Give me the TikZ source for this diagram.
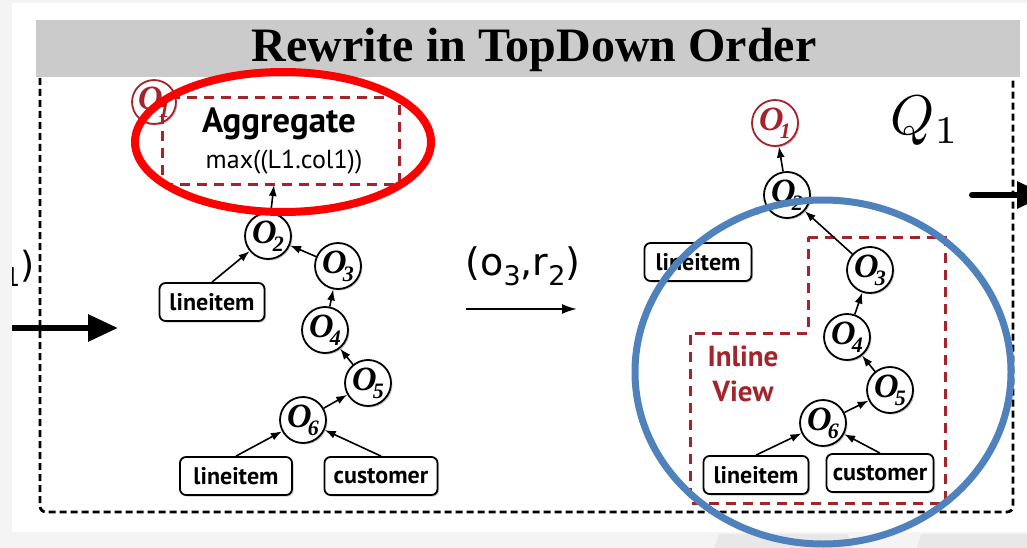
\documentclass[tikz,border=0pt]{standalone}
\usepackage{fontspec}
\setmainfont{Liberation Serif}
\newfontfamily\hsf{PT Sans}
\newfontfamily\dvs{DejaVu Sans}
\usetikzlibrary{arrows.meta,shadows,calc}
\definecolor{bgg}{HTML}{F4F4F4}
\definecolor{hdr}{HTML}{CBCBCB}
\definecolor{dred}{HTML}{A3242B}
\definecolor{bblue}{HTML}{4F81BD}
\definecolor{rred}{HTML}{FF0000}
\definecolor{faint}{HTML}{E8E8E8}
\newcommand\olab[1]{{\fontsize{34}{34}\selectfont\bfseries\itshape O}\kern-4pt\raisebox{-8pt}{\fontsize{22}{22}\selectfont\bfseries\itshape #1}}
\begin{document}
\begin{tikzpicture}[x=1pt,y=-1pt,
  shad/.style={drop shadow={shadow xshift=1.5pt,shadow yshift=-1.5pt,opacity=.3,fill=black!70}},
  op/.style={circle,draw,line width=1.8pt,minimum size=46pt,inner sep=0pt,fill=white,shad},
  rop/.style={op,draw=dred,text=dred},
  tbl/.style={draw,rounded corners=6pt,line width=1.8pt,fill=white,minimum height=38pt,inner sep=0pt,
    font=\hsf\bfseries\fontsize{24}{24}\selectfont,shad},
  edge/.style={-{Latex[length=11pt,width=8pt]},line width=1.6pt},
  thick arrow/.style={line width=6pt,-{Triangle[length=30pt,width=26pt]}},
  reddash/.style={draw=dred,line width=3pt,dash pattern=on 10pt off 7pt}]
\useasboundingbox (0,0) rectangle (1027,548);
% backgrounds
\fill[bgg] (0,0) rectangle (1027,548);
\fill[faint] (714,548) -- (719,534) -- (848,534) -- (852,548) -- cycle;
\fill[faint] (917,548) -- (921,534) -- (1027,534) -- (1027,548) -- cycle;
\fill[white] (12,3) rectangle (1027,532);
\fill[hdr] (36,20) rectangle (1020,77);
\node[anchor=base,font=\bfseries\fontsize{48}{48}\selectfont] (title) at (534,62) {Rewrite in TopDown Order};
\draw[line width=2.8pt,dash pattern=on 7pt off 4pt,rounded corners=6pt] (40,78) -- (40,512) -- (1013,512) -- (1013,78);
% partial label on the left
\begin{scope}
\clip (12,240) rectangle (40,310);
\node[anchor=east,font=\dvs\fontsize{36}{36}\selectfont] (prevlab) at (38,268) {r\raisebox{-9pt}{\fontsize{26}{26}\selectfont 1})};
\end{scope}
\coordinate (lstart) at (12,328);
\coordinate (lend) at (118,328);
\draw[thick arrow] (lstart) -- (lend);
% ---------- left tree
\node[rop,minimum size=42pt] (L1) at (154,102) {\olab{1}};
\node[reddash,minimum width=237pt,minimum height=87pt] (agg) at (281,141) {};
\node[font=\hsf\bfseries\fontsize{35}{35}\selectfont] (aggt) at (279,124) {Aggregate};
\node[font=\hsf\fontsize{26}{26}\selectfont] (aggf) at (284,162) {max((L1.col1))};
\coordinate (aggin) at (274,185);
\node[op] (L2) at (268,236) {\olab{2}};
\node[op] (L3) at (338,266) {\olab{3}};
\node[op] (L4) at (325,330) {\olab{4}};
\node[op] (L5) at (368,383) {\olab{5}};
\node[op] (L6) at (303,420) {\olab{6}};
\node[tbl,minimum width=105pt] (lt1) at (212,302) {lineitem};
\node[tbl,minimum width=112pt] (lt2) at (236,476) {lineitem};
\node[tbl,minimum width=113pt] (lc2) at (381,476) {customer};
\draw[edge] (L2) -- (aggin);
\draw[edge] (lt1.north) -- (L2);
\draw[edge] (L3) -- (L2);
\draw[edge] (L4) -- (L3);
\draw[edge] (L5) -- (L4);
\draw[edge] (L6) -- (L5);
\draw[edge] (lt2.north) -- (L6);
\draw[edge] (lc2.north) -- (L6);
\draw[rred,line width=8pt] (283,142) ellipse [x radius=148,y radius=70];
% ---------- middle
\node[font=\dvs\fontsize{38}{38}\selectfont] (rule) at (523,266) {(o\raisebox{-10pt}{\fontsize{27}{27}\selectfont 3},r\raisebox{-10pt}{\fontsize{27}{27}\selectfont 2})};
\coordinate (ma) at (466,309);
\coordinate (mb) at (577,309);
\draw[line width=2pt,-{Latex[length=15pt,width=10pt]}] (ma) -- (mb);
% ---------- right tree
\draw[reddash] (808,237) -- (945,237) -- (945,503) -- (690,503) -- (690,333) -- (808,333) -- cycle;
\node[font=\hsf\bfseries\fontsize{29}{35}\selectfont,text=dred,align=center] (iv) at (743,374) {Inline\\View};
\node[rop] (R1) at (775,123) {\olab{1}};
\node[op] (R2) at (787,195) {\olab{2}};
\node[op] (R3) at (870,270) {\olab{3}};
\node[op] (R4) at (847,337) {\olab{4}};
\node[op] (R5) at (890,390) {\olab{5}};
\node[op] (R6) at (823,423) {\olab{6}};
\node[tbl,minimum width=107pt] (rt1) at (698,262) {lineitem};
\node[tbl,minimum width=105pt] (rt2) at (756,475) {lineitem};
\node[tbl,minimum width=107pt] (rc2) at (880,473) {customer};
\draw[edge] (R2) -- (R1);
\draw[edge] (rt1.north) -- (R2);
\draw[edge] (R3) -- (R2);
\draw[edge] (R4) -- (R3);
\draw[edge] (R5) -- (R4);
\draw[edge] (R6) -- (R5);
\draw[edge] (rt2.north) -- (R6);
\draw[edge] (rc2.north) -- (R6);
\node (q1) at (925,121) {\scalebox{5.6}{$Q_1$}};
\coordinate (ra) at (972,195);
\coordinate (rb) at (1047,195);
\draw[thick arrow,line cap=round] (ra) -- (rb);
\draw[bblue,line width=7pt] (823,372) ellipse [x radius=188,y radius=172];
\end{tikzpicture}
\end{document}
